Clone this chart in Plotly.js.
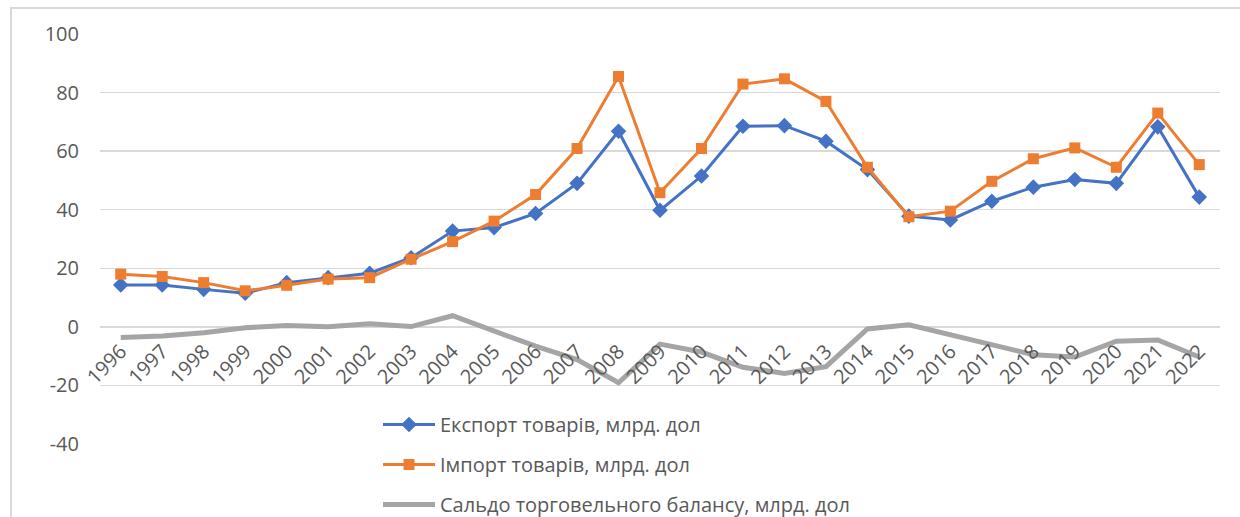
<!DOCTYPE html>
<html>
<head>
<meta charset="utf-8">
<script src="https://cdn.plot.ly/plotly-3.0.1.min.js"></script>
<style>html,body{margin:0;padding:0;background:#fff;}#chart{width:1240px;height:517px;}</style>
</head>
<body>
<div id="chart"></div>
<script>
const years = ["1996","1997","1998","1999","2000","2001","2002","2003","2004","2005","2006","2007","2008","2009","2010","2011","2012","2013","2014","2015","2016","2017","2018","2019","2020","2021","2022"];
const exportGoods = [14.3,14.3,12.8,11.5,15.1,16.8,18.3,23.6,32.7,33.9,38.7,49.0,66.8,39.8,51.5,68.5,68.7,63.4,53.7,37.8,36.5,42.9,47.7,50.3,49.0,68.3,44.3];
const importGoods = [18.0,17.2,15.1,12.3,14.2,16.3,16.8,23.1,29.1,36.1,45.2,60.9,85.5,45.8,60.9,82.9,84.7,77.0,54.5,37.6,39.5,49.7,57.4,61.1,54.5,73.0,55.4];
const tradeBalance = [-3.6,-3.1,-2.0,-0.3,0.5,0.0,1.1,0.1,3.8,-1.4,-6.6,-11.2,-19.1,-5.9,-8.6,-13.8,-15.9,-13.6,-0.7,0.7,-2.8,-6.3,-9.5,-10.3,-4.9,-4.5,-10.3];
const seriesNames = ["Експорт товарів, млрд. дол","Імпорт товарів, млрд. дол","Сальдо торговельного балансу, млрд. дол"];
const yTickVals = [-40,-20,0,20,40,60,80,100];
const yTickText = ["-40","-20","0","20","40","60","80","100"];

const FONT = "Open Sans, Noto Sans, sans-serif";
const yMin = -40, yMax = 100;

const traces = [
  {x: years, y: exportGoods, name: seriesNames[0], type: "scatter", mode: "lines+markers",
   line: {color: "#4472C4", width: 3}, marker: {symbol: "diamond", size: 12, color: "#4472C4"}, legendgroup: "a"},
  {x: years, y: importGoods, name: seriesNames[1], type: "scatter", mode: "lines+markers",
   line: {color: "#ED7D31", width: 3}, marker: {symbol: "square", size: 11, color: "#ED7D31"}, legendgroup: "b"},
  {x: years, y: tradeBalance, name: seriesNames[2], type: "scatter", mode: "lines",
   line: {color: "#A5A5A5", width: 5}, legendgroup: "c"}
];

const layout = {
  width: 1240, height: 517,
  margin: {l: 100, r: 20, t: 34, b: 73, autoexpand: false},
  paper_bgcolor: "#fff", plot_bgcolor: "rgba(0,0,0,0)",
  font: {family: FONT, color: "#595959", size: 20},
  showlegend: true,
  legend: {x: (378-100)/1120, xanchor: "left", y: (444-405)/410, yanchor: "top",
           bgcolor: "rgba(0,0,0,0)", font: {family: FONT, size: 20, color: "#595959"},
           itemwidth: 52, tracegroupgap: 11, traceorder: "grouped"},
  xaxis: {type: "category", range: [-0.5, years.length - 0.5], anchor: "free", position: (0 - yMin)/(yMax - yMin),
          showgrid: false, showline: false, zeroline: false, ticks: "",
          tickangle: -45, ticklabelstandoff: 8, tickfont: {family: FONT, size: 20, color: "#595959"}, fixedrange: true},
  yaxis: {range: [yMin, yMax], tickvals: yTickVals, ticktext: yTickText,
          showgrid: true, gridcolor: "#d9d9d9", gridwidth: 1.5, zeroline: false, showline: false,
          ticks: "", ticklabelstandoff: 20, tickfont: {family: FONT, size: 20, color: "#595959"}},
  shapes: [
    {type: "rect", xref: "paper", yref: "paper", x0: (11-100)/1120, x1: 1.2, y0: -0.4, y1: 1 + (34-8)/410,
     line: {color: "#d9d9d9", width: 2}, fillcolor: "rgba(0,0,0,0)", layer: "below"}
  ]
};

Plotly.newPlot("chart", traces, layout, {displayModeBar: false, staticPlot: true});
</script>
</body>
</html>
